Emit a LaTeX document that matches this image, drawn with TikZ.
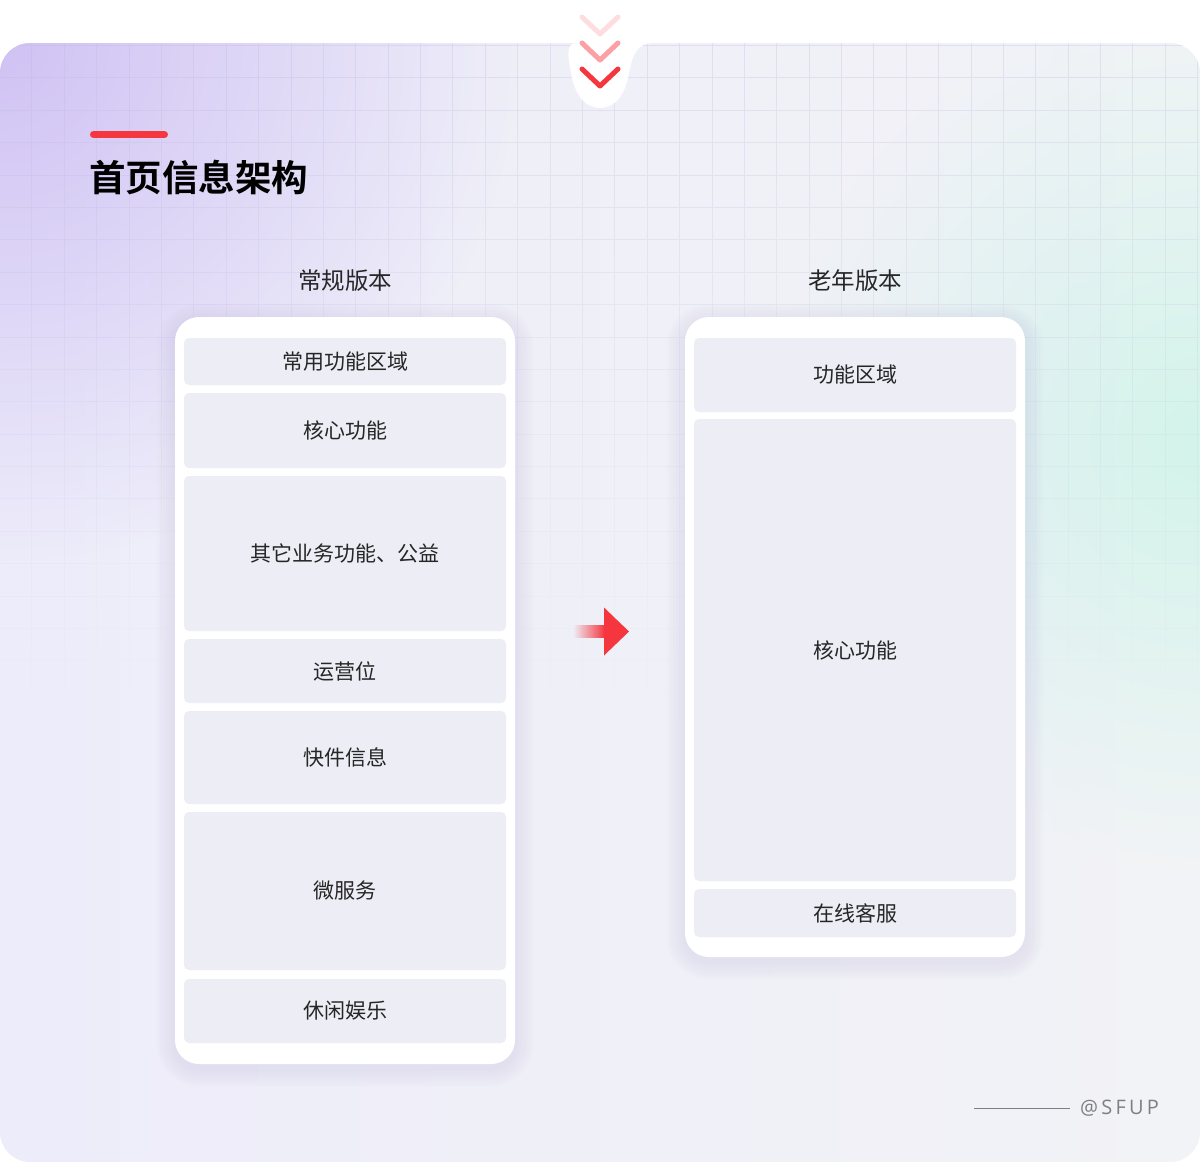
\documentclass[tikz,border=0pt]{standalone}
\usepackage{fontspec}
\setmainfont{Noto Sans CJK SC}[BoldFont={* Bold}]
\newfontfamily\signfont[LetterSpace=16]{Open Sans}
\usetikzlibrary{fadings}

\definecolor{bgleft}{HTML}{EDECFA}
\definecolor{bgright}{HTML}{F2F3F6}
\definecolor{glowpurple}{HTML}{D0C2F4}
\definecolor{glowmint}{HTML}{D3F3EB}
\definecolor{gridc}{HTML}{BDB6DE}
\definecolor{boxfill}{HTML}{EDEDF5}
\definecolor{shadowc}{HTML}{B4B0D6}
\definecolor{textc}{HTML}{262626}
\definecolor{arrowred}{HTML}{F5363E}
\definecolor{chevlight}{HTML}{FDDDE0}
\definecolor{chevmid}{HTML}{FBA0A5}
\definecolor{signgray}{HTML}{7C8084}

\tikzfading[name=glowfade, inner color=transparent!0, outer color=transparent!100]
\tikzfading[name=gridfade, top color=transparent!70, bottom color=transparent!100]
\tikzfading[name=shaftfade, left color=transparent!100, right color=transparent!0]

\tikzset{
  card/.style={fill=white, rounded corners=24},
  block/.style={fill=boxfill, rounded corners=5, minimum width=322, inner sep=0,
    text=textc, font=\fontsize{21}{25}\selectfont},
  header/.style={text=textc, inner sep=0, font=\fontsize{23.5}{28}\selectfont},
  chevron/.style={line width=5, line cap=round, line join=round}
}

\newcommand\panel{(0,600) [rounded corners=30] |- (546,43) [sharp corners]
  .. controls (565,43) and (568,58) .. (572,78)
  .. controls (577,100) and (588,108) .. (600,108)
  .. controls (612,108) and (623,100) .. (628,78)
  .. controls (632,58) and (635,43) .. (654,43)
  [rounded corners=30] -| (1200,600) |- (0,1162) -- cycle}

\begin{document}
\begin{tikzpicture}[x=1pt, y=-1pt]
  \useasboundingbox (0,0) rectangle (1200,1162);
  % background panel
  \shade[left color=bgleft, right color=bgright] \panel;
  \begin{scope}
    \clip \panel;
    \fill[glowpurple, path fading=glowfade] (0,40) circle[radius=520];
    \fill[glowmint, path fading=glowfade] (1200,440) circle[radius=430];
    \draw[gridc, line width=1, path fading=gridfade]
      \foreach \i in {1,...,37} {(32.4*\i,43) -- (32.4*\i,720)}
      \foreach \j in {0,...,21} {(0,45.2+32.4*\j) -- (1200,45.2+32.4*\j)};
  \end{scope}
  % chevrons
  \draw[chevron, chevlight] (582,17) -- (600,34) -- (618,17);
  \draw[chevron, chevmid] (582,43) -- (600,60) -- (618,43);
  \draw[chevron, arrowred] (582,69) -- (600,86) -- (618,69);
  % title
  \draw[arrowred, line width=7, line cap=round] (93.5,134.5) -- (164.5,134.5);
  \node[anchor=west, inner sep=0, font=\fontsize{36.5}{40}\selectfont\bfseries] (title)
    at (89,177) {首页信息架构};
  % column headers
  \node[header] (h1) at (345,281) {常规版本};
  \node[header] (h2) at (855,281) {老年版本};
  % card shadows
  \foreach \s in {3,6,...,18} {
    \fill[shadowc, opacity=0.035, rounded corners=24+\s] (175-\s,322-\s) rectangle (515+\s,1068+\s);
    \fill[shadowc, opacity=0.035, rounded corners=24+\s] (685-\s,322-\s) rectangle (1025+\s,961+\s);
  }
  % regular version
  \fill[card] (175,317) rectangle (515,1064);
  \node[block, minimum height=47] (l1) at (345,361.5) {常用功能区域};
  \node[block, minimum height=75] (l2) at (345,430.5) {核心功能};
  \node[block, minimum height=155] (l3) at (345,553.5) {其它业务功能、公益};
  \node[block, minimum height=64] (l4) at (345,671) {运营位};
  \node[block, minimum height=93] (l5) at (345,757.5) {快件信息};
  \node[block, minimum height=158] (l6) at (345,891) {微服务};
  \node[block, minimum height=64] (l7) at (345,1011) {休闲娱乐};
  % elderly version
  \fill[card] (685,317) rectangle (1025,957);
  \node[block, minimum height=74] (r1) at (855,375) {功能区域};
  \node[block, minimum height=462] (r2) at (855,650) {核心功能};
  \node[block, minimum height=48] (r3) at (855,913) {在线客服};
  % arrow
  \coordinate (arrowtail) at (573,631.5);
  \coordinate (arrowtip) at (629,631.5);
  \fill[arrowred, path fading=shaftfade] (arrowtail) ++(0,-6.5) rectangle ++(32,13);
  \fill[arrowred] (arrowtip) -- ++(-25,-24) -- ++(0,48) -- cycle;
  % signature
  \node[anchor=west, inner sep=0, text=signgray, font=\signfont\fontsize{20}{24}\selectfont]
    (sign) at (1080,1108.5) {@SFUP};
  \draw[signgray, line width=1.2] (sign.west) ++(-10,0) -- ++(-96,0);
\end{tikzpicture}
\end{document}
